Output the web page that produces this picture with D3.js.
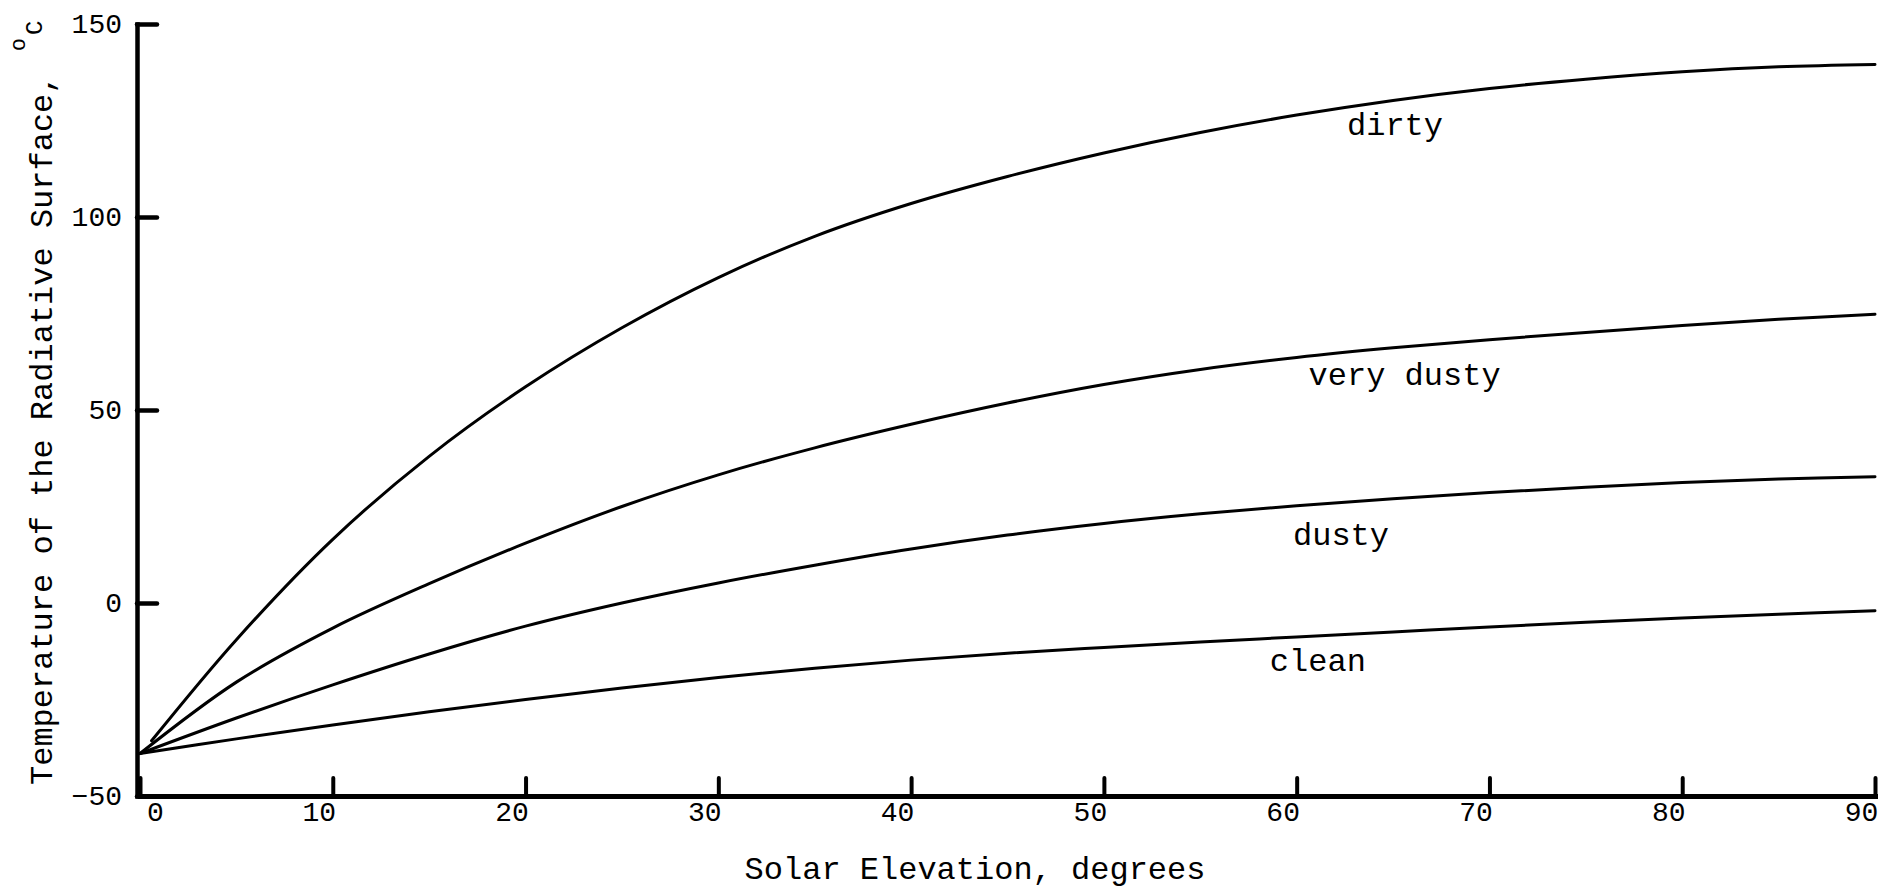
<!DOCTYPE html>
<html>
<head>
<meta charset="utf-8">
<script src="https://cdn.jsdelivr.net/npm/d3@7"></script>
<style>
  body { margin: 0; background: #fff; }
  text { font-family: "Liberation Mono", "DejaVu Sans Mono", monospace; fill: #000; }
</style>
</head>
<body>
<div id="chart"></div>
<script>
// solar elevation (degrees) and surface temperature (deg C)
var elevation = [0, 5, 10, 15, 20, 25, 30, 35, 40, 45, 50, 55, 60, 65, 70, 75, 80, 85, 90];
var dirtyElevation = [0.6, 5, 10, 15, 20, 25, 30, 35, 40, 45, 50, 55, 60, 65, 70, 75, 80, 85, 90];

var dirty = [-35.7, -9.5, 16.5, 38, 56, 71.3, 84.3, 95, 103.5, 110.5, 116.6, 121.9, 126.4, 130.2, 133.3, 135.7, 137.6, 138.9, 139.5];
var veryDusty = [-39, -20.5, -6.5, 5, 15.5, 25, 33.2, 40.2, 46.3, 51.8, 56.6, 60.5, 63.6, 66.1, 68.2, 70.1, 71.9, 73.5, 74.8];
var dusty = [-39, -29.8, -21.2, -13.2, -6, 0, 5.2, 9.8, 14, 17.6, 20.6, 23.1, 25.2, 27, 28.6, 30, 31.2, 32.1, 32.7];
var clean = [-39, -35.2, -31.6, -28.2, -25, -22, -19.3, -16.9, -14.8, -13, -11.5, -10.1, -8.8, -7.5, -6.2, -5, -3.9, -2.9, -2];

var xTicks = [0, 10, 20, 30, 40, 50, 60, 70, 80, 90];
var yTicks = [-50, 0, 50, 100, 150];

// curve names with the (elevation, temperature) spot where each label sits
var labelNames = ["dirty", "very dusty", "dusty", "clean"];
var labelX = [65.1, 65.6, 62.3, 61.1];
var labelY = [121.2, 56.4, 14.9, -17.6];

var svgWidth = 1900;
var svgHeight = 888;

var svg = d3.select("#chart")
  .append("svg")
  .attr("width", svgWidth)
  .attr("height", svgHeight);

var xScale = d3.scaleLinear().domain([0, 90]).range([140, 1875]);
var yScale = d3.scaleLinear().domain([-50, 150]).range([796, 24]);

// x axis, ticks point up into the plot
var xAxis = svg.append("g")
  .attr("transform", "translate(0, 796)")
  .call(d3.axisBottom(xScale)
    .tickValues(xTicks)
    .tickSizeInner(-18)
    .tickSizeOuter(0)
    .tickPadding(5));

xAxis.select(".domain")
  .attr("stroke-width", 5)
  .attr("stroke-linecap", "square");
xAxis.selectAll(".tick line")
  .attr("stroke-width", 4)
  .attr("stroke-linecap", "round");
xAxis.selectAll(".tick text")
  .attr("font-size", 28)
  .attr("font-family", "Liberation Mono")
  .attr("dx", d => d === 0 ? 15 : -14);

// y axis, ticks point right into the plot
var yAxis = svg.append("g")
  .attr("transform", "translate(137, 0)")
  .call(d3.axisLeft(yScale)
    .tickValues(yTicks)
    .tickSizeInner(-20)
    .tickSizeOuter(0)
    .tickPadding(15));

yAxis.select(".domain")
  .attr("stroke-width", 4.5)
  .attr("stroke-linecap", "square");
yAxis.selectAll(".tick line")
  .attr("stroke-width", 4.5)
  .attr("stroke-linecap", "round");
yAxis.selectAll(".tick text")
  .attr("font-size", 28)
  .attr("font-family", "Liberation Mono");

// curves
var series = [
  { x: dirtyElevation, y: dirty },
  { x: elevation, y: veryDusty },
  { x: elevation, y: dusty },
  { x: elevation, y: clean }
];

var line = d3.line()
  .x(d => xScale(d[0]))
  .y(d => yScale(d[1]))
  .curve(d3.curveCatmullRom.alpha(0.5));

svg.selectAll(".curve")
  .data(series)
  .enter()
  .append("path")
  .attr("class", "curve")
  .attr("d", s => line(s.x.map((v, i) => [v, s.y[i]])))
  .attr("fill", "none")
  .attr("stroke", "#000")
  .attr("stroke-width", 3)
  .attr("stroke-linecap", "round");

// curve labels
svg.selectAll(".curveLabel")
  .data(labelNames)
  .enter()
  .append("text")
  .attr("class", "curveLabel")
  .attr("x", (d, i) => xScale(labelX[i]))
  .attr("y", (d, i) => yScale(labelY[i]))
  .attr("text-anchor", "middle")
  .attr("font-size", 32)
  .text(d => d);

// axis titles
svg.append("text")
  .attr("x", 975)
  .attr("y", 879)
  .attr("text-anchor", "middle")
  .attr("font-size", 32)
  .text("Solar Elevation, degrees");

var yTitle = svg.append("text")
  .attr("transform", "translate(52, 785) rotate(-90)")
  .attr("font-size", 32);
yTitle.append("tspan").text("Temperature of the Radiative Surface, ");
yTitle.append("tspan").attr("font-size", 22).attr("dx", 4).attr("dy", -27).text("o");
yTitle.append("tspan").attr("font-size", 24).attr("dx", 3).attr("dy", 17).text("C");
</script>
</body>
</html>
